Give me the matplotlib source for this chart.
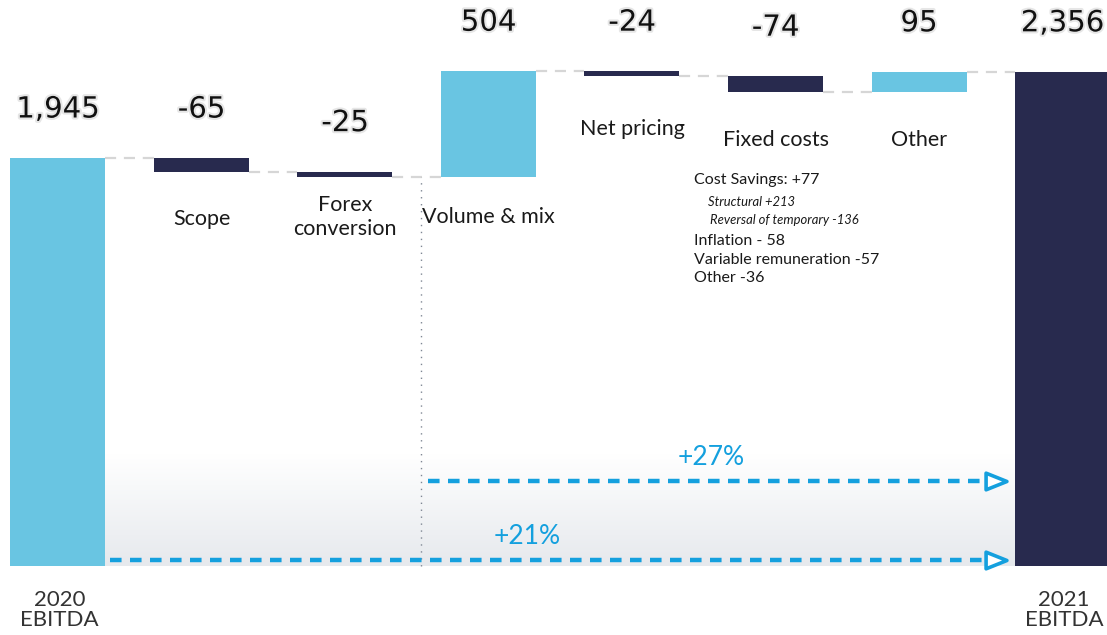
import numpy as np
import matplotlib.pyplot as plt
import matplotlib.patheffects as pe
from matplotlib.colors import LinearSegmentedColormap
from matplotlib.path import Path

# EBITDA bridge 2020 -> 2021 (EUR m)
start_value = 1945
steps = ["Scope", "Forex\nconversion", "Volume & mix", "Net pricing", "Fixed costs", "Other"]
deltas = [-65, -25, 504, -24, -74, 95]
end_labels = ["2020\nEBITDA", "2021\nEBITDA"]

cost_notes = ["Cost Savings: +77", "Structural +213", "Reversal of temporary -136",
              "Inflation - 58", "Variable remuneration -57", "Other -36"]
note_italic = [False, True, True, False, False, False]

LIGHT = "#69C5E2"
NAVY = "#282A4E"
ARROW = "#14A0DE"
TEXT = "#1a1a1a"

# distance (pt) from bar bottom to each step label
label_drop = [34, 29, 29, 38, 35, 35]

running = start_value + np.concatenate([[0], np.cumsum(deltas)])
end_value = running[-1]
n = len(deltas) + 2
w = 0.662

fig = plt.figure(figsize=(11.07, 6.35), dpi=100)
ax = fig.add_axes([0, 0, 1, 1])
ax.set_axis_off()

# soft grey band behind the arrows
band = LinearSegmentedColormap.from_list("band", ["#ffffff", "#E6E9ED"])
grad = np.linspace(0, 1, 256).reshape(-1, 1)
ax.imshow(grad, cmap=band, aspect="auto", origin="upper",
          extent=[w / 2, n - 1 - w / 2, 0, 530], zorder=0)
ax.set_xlim(-0.404, 7.31)
ax.set_ylim(-329, 2699)

# bars
bottoms = [0]
heights = [start_value]
colors = [LIGHT]
for i, d in enumerate(deltas):
    bottoms.append(min(running[i], running[i + 1]))
    heights.append(abs(d))
    colors.append(LIGHT if d > 0 else NAVY)
bottoms.append(0)
heights.append(end_value)
colors.append(NAVY)
xs = np.arange(n)
ax.bar(xs, heights, bottom=bottoms, width=w, color=colors, zorder=2)

# connectors between bars
for p in range(n - 1):
    ax.plot([p + w / 2, p + 1 - w / 2], [running[p], running[p]], color="#D6D6D6",
            lw=1.6, linestyle=(0, (5, 3.5)), zorder=1)

# value labels
values = [start_value] + deltas + [end_value]
halo = [pe.withStroke(linewidth=3, foreground="#e6e6e6")]
for x, b, h, v in zip(xs, bottoms, heights, values):
    ax.annotate(f"{v:,}", (x, b + h), xytext=(0, 35), textcoords="offset points",
                ha="center", va="center", fontsize=21, family="DejaVu Sans",
                color="#111111", path_effects=halo, zorder=4)

# step labels under each floating bar
for i, name in enumerate(steps):
    x = i + 1
    ax.annotate(name, (x, bottoms[x]), xytext=(0, -label_drop[i]), textcoords="offset points",
                ha="center", va="center", fontsize=15.5, family="Lato",
                color=TEXT, linespacing=1.25)

for x, name in zip([0, n - 1], end_labels):
    ax.annotate(name, (x, 0), xytext=(1, -32), textcoords="offset points",
                ha="center", va="center", fontsize=16, family="Lato",
                color="#333333", linespacing=1.0)

# fixed costs breakdown
note_x = 4.43
note_y = running[4] - 495
offset = 0
gaps = [0, 16, 13, 14.5, 14, 13]
indents = [0, 10, 11.5, 0, 0, 0]
for txt, ital, g, ind in zip(cost_notes, note_italic, gaps, indents):
    offset += g
    ax.annotate(txt, (note_x, note_y), xytext=(ind, -offset),
                textcoords="offset points", ha="left", va="center",
                fontsize=9.4 if ital else 11.5, style="italic" if ital else "normal",
                family="Lato", color=TEXT)

# divider before volume & mix
split_x = 2.53
ax.plot([split_x, split_x], [0, running[2]], color="#7F8794", lw=1,
        linestyle=(0, (1, 4)), zorder=1)

# growth arrows
head = Path([(-1.25, -1), (1.25, 0), (-1.25, 1), (-1.25, -1)],
            [Path.MOVETO, Path.LINETO, Path.LINETO, Path.CLOSEPOLY])
arrow_end = n - 1 - w / 2 - 0.13
growth_total = end_value / start_value - 1
growth_organic = end_value / running[2] - 1
for x0, y, g, lx in [(w / 2 + 0.03, 29, growth_total, 3.27),
                     (split_x + 0.05, 405, growth_organic, 4.55)]:
    ax.plot([x0, arrow_end - 0.07], [y, y], color=ARROW, lw=3.2,
            linestyle=(0, (2.6, 1.9)), zorder=3)
    ax.plot([arrow_end], [y], marker=head, markersize=15, mfc="white",
            mec=ARROW, mew=2.6, zorder=3)
    ax.annotate(f"+{g:.0%}", (lx, y), xytext=(0, 17), textcoords="offset points",
                ha="center", va="center", fontsize=19, family="Lato",
                color=ARROW)

fig.savefig("out.png", dpi=100)
